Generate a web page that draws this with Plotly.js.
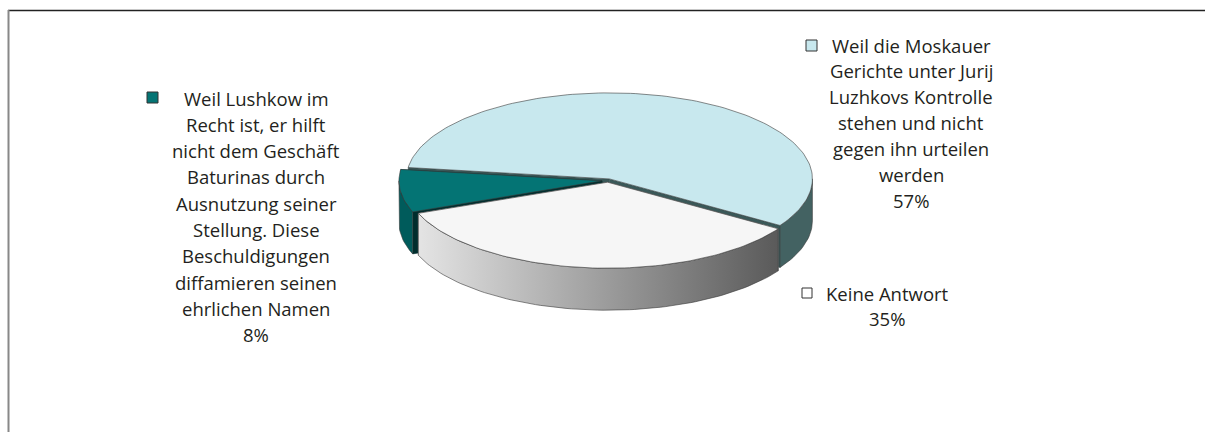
<!DOCTYPE html>
<html>
<head>
<meta charset="utf-8">
<script src="https://cdn.plot.ly/plotly-3.0.1.min.js"></script>
<style>
html,body{margin:0;padding:0;background:#fff;}
#chart{width:1205px;height:432px;}
</style>
</head>
<body>
<div id="chart"></div>
<script>
// ---- data ----
const categories = [
  "Weil Lushkow im\nRecht ist, er hilft\nnicht dem Geschäft\nBaturinas durch\nAusnutzung seiner\nStellung. Diese\nBeschuldigungen\ndiffamieren seinen\nehrlichen Namen",
  "Weil die Moskauer\nGerichte unter Jurij\nLuzhkovs Kontrolle\nstehen und nicht\ngegen ihn urteilen\nwerden",
  "Keine Antwort"
];
const values = [8, 57, 35];
const percentLabels = ["8%", "57%", "35%"];

// ---- style ----
const topColors  = ["#047474", "#C8E8EE", "#F6F6F6"];
const sideColors = ["#005B5B", "#436262", null];
const wallColors = ["#002E2E", "#3A5858", "#8A8A8A"];
const sideGradient = [[0, "#E4E4E4"], [1, "#5A5A5A"]];
const squareColors = ["#047474", "#C8E8EE", "#FFFFFF"];
const explode = [0.03, 0.02, 0.02];
const geom = {cx: 608, cy: 180.5, rx: 203, ry: 86, depth: 42, start: 201.2};
const labelPos = [
  {x: 256, y: 98, dy: 26.3, sq: [147, 92, 158, 103]},
  {x: 911, y: 45, dy: 25.9, sq: [806, 40, 817, 51]},
  {x: 887, y: 293, dy: 25, sq: [802, 288, 812, 298]}
];
const fontFam = "Open Sans, Noto Sans, sans-serif";
const fontSize = 18.5;
const textColor = "#231F20";

// ---- geometry from data ----
const total = values.reduce((a, b) => a + b, 0);
const slices = [];
let hi = geom.start;
values.forEach((v, i) => {
  const span = v / total * 360;
  const lo = hi - span;
  const mid = (hi + lo) / 2 * Math.PI / 180;
  const ox = explode[i] * geom.rx * Math.cos(mid);
  const oy = -explode[i] * geom.ry * Math.sin(mid);
  slices.push({hi, lo, ox, oy});
  hi = lo;
});

function pt(a, s, down) {
  const r = a * Math.PI / 180;
  return [geom.cx + s.ox + geom.rx * Math.cos(r), geom.cy + s.oy - geom.ry * Math.sin(r) + (down || 0)];
}
function arc(a0, a1, s, down) {
  const n = Math.max(4, Math.ceil(Math.abs(a1 - a0) / 1.5));
  const pts = [];
  for (let k = 0; k <= n; k++) pts.push(pt(a0 + (a1 - a0) * k / n, s, down));
  return pts;
}
function poly(pts, fill, lineColor, lineW, extra) {
  const xs = pts.map(p => p[0]), ys = pts.map(p => p[1]);
  xs.push(xs[0]); ys.push(ys[0]);
  return Object.assign({
    type: "scatter", mode: "lines", x: xs, y: ys, fill: "toself",
    fillcolor: fill, line: {color: lineColor, width: lineW}, hoverinfo: "skip", showlegend: false
  }, extra || {});
}

const traces = [];
const order = [1, 0, 2];
order.forEach(i => {
  const s = slices[i];
  [s.hi, s.lo].forEach(a => {
    const c = [geom.cx + s.ox, geom.cy + s.oy];
    const rim = pt(a, s, 0);
    traces.push(poly([c, rim, [rim[0], rim[1] + geom.depth], [c[0], c[1] + geom.depth]], wallColors[i], wallColors[i], 0.5));
  });
  const ranges = [[-180, 0], [180, 360]];
  ranges.forEach(r => {
    const a = Math.max(s.lo, r[0]), b = Math.min(s.hi, r[1]);
    if (b - a > 0.01) {
      const top = arc(b, a, s, 0);
      const bot = arc(a, b, s, geom.depth);
      const pts = top.concat(bot);
      if (sideColors[i]) {
        traces.push(poly(pts, sideColors[i], "#3A3A3A", 0.6));
      } else {
        const xs = pts.map(p => p[0]);
        traces.push(poly(pts, "#AAAAAA", "#3A3A3A", 0.6, {
          fillgradient: {type: "horizontal", colorscale: sideGradient,
            start: Math.min(...xs), stop: Math.max(...xs)}
        }));
      }
    }
  });
});
order.forEach(i => {
  const s = slices[i];
  const c = [geom.cx + s.ox, geom.cy + s.oy];
  const pts = [c].concat(arc(s.hi, s.lo, s, 0));
  traces.push(poly(pts, topColors[i], "#3A3A3A", 0.6));
});

// ---- labels ----
const annotations = [];
const shapes = [];
categories.forEach((cat, i) => {
  const lines = cat.split("\n").concat([percentLabels[i]]);
  const p = labelPos[i];
  lines.forEach((ln, k) => {
    annotations.push({
      x: p.x, y: p.y + k * p.dy, xref: "x", yref: "y", text: ln, showarrow: false,
      xanchor: "center", yanchor: "middle",
      font: {family: fontFam, size: fontSize, color: textColor}
    });
  });
  shapes.push({type: "rect", xref: "x", yref: "y", x0: p.sq[0], y0: p.sq[1], x1: p.sq[2], y1: p.sq[3],
    fillcolor: squareColors[i], line: {color: "#333", width: 1}});
});
shapes.push({type: "line", xref: "x", yref: "y", x0: 8, x1: 1205, y0: 10.5, y1: 10.5, line: {color: "#222", width: 1.5}});
shapes.push({type: "line", xref: "x", yref: "y", x0: 8.5, x1: 8.5, y0: 10, y1: 432, line: {color: "#888", width: 2}});

const layout = {
  width: 1205, height: 432,
  margin: {l: 0, r: 0, t: 0, b: 0},
  paper_bgcolor: "#fff", plot_bgcolor: "#fff",
  xaxis: {range: [0, 1205], visible: false, fixedrange: true},
  yaxis: {range: [432, 0], visible: false, fixedrange: true},
  showlegend: false,
  annotations, shapes
};
Plotly.newPlot("chart", traces, layout, {displayModeBar: false, staticPlot: true});
</script>
</body>
</html>
